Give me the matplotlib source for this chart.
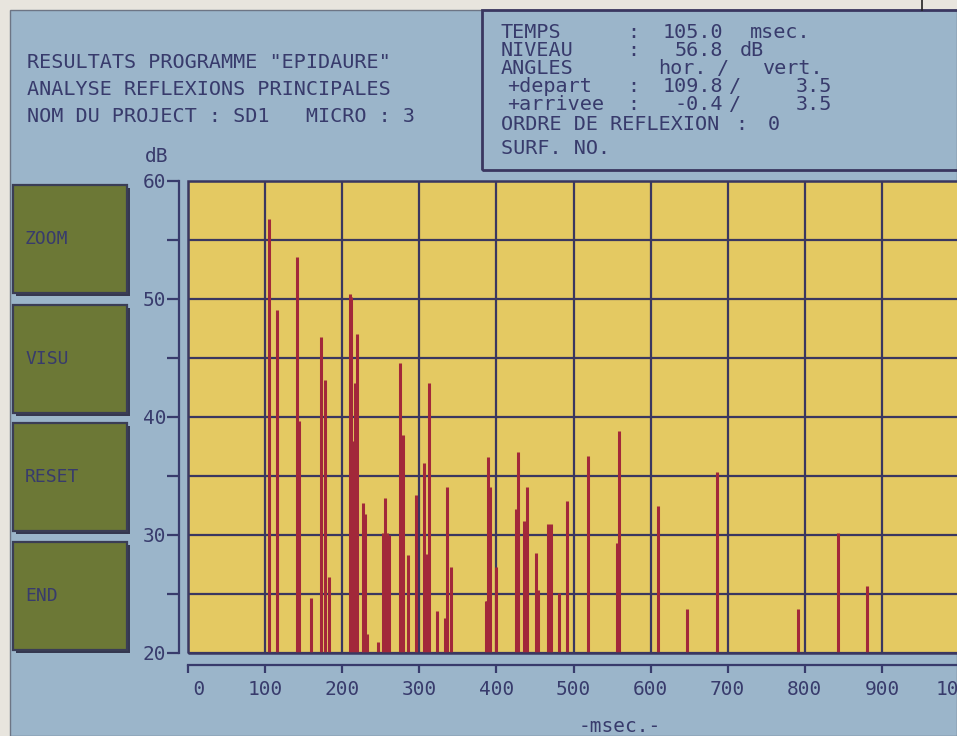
import matplotlib
matplotlib.use('Agg')
import matplotlib.pyplot as plt
from matplotlib.patches import Rectangle
from matplotlib.lines import Line2D

W, H = 957, 736

# reflexions principales : temps d'arrivee (ms) et niveau (dB)
temps_ms = [105, 116, 141, 144, 159, 172.5, 177.7, 183, 210, 212, 214, 216.6, 218.8,
            226.5, 229, 232, 247, 253, 255.5, 258, 261, 275, 279, 285, 295.7, 306.5,
            309, 312.6, 322.5, 333, 336, 341, 386, 388, 389.5, 391.7, 399.5, 425.4,
            427.6, 435.8, 439.3, 451.4, 454.4, 466.5, 470.4, 481.2, 492, 519.2, 556,
            558.5, 610, 647.6, 686.5, 791, 842.7, 880.7]
niveau_db = [56.8, 49.1, 53.6, 39.7, 24.7, 46.8, 43.1, 26.4, 50.4, 50.2, 38.0, 42.9, 47.0,
             32.7, 31.8, 21.6, 20.9, 30.2, 33.1, 30.2, 30.0, 44.6, 38.5, 28.3, 33.4, 36.1,
             28.4, 42.9, 23.6, 23.0, 34.1, 27.3, 24.4, 24.4, 36.6, 34.1, 27.3, 32.2,
             37.0, 31.2, 34.1, 28.5, 25.3, 30.9, 30.9, 25.1, 32.9, 36.7, 29.3,
             38.8, 32.5, 23.7, 35.3, 23.7, 30.2, 25.7]

x_ticks = list(range(0, 1001, 100))
x_labels = ['  0', '100', '200', '300', '400', '500', '600', '700', '800', '900', '1000']
y_major = [20, 30, 40, 50, 60]
y_minor = [25, 35, 45, 55]

en_tete = ['RESULTATS PROGRAMME "EPIDAURE"',
           'ANALYSE REFLEXIONS PRINCIPALES',
           'NOM DU PROJECT : SD1   MICRO : 3']
boutons = ['ZOOM', 'VISU', 'RESET', 'END']

# bloc d'info : (texte, x px, y px)
infos = [
    ('TEMPS', 501, 32), (':', 627, 32), ('105.0', 663, 32), ('msec.', 750, 32),
    ('NIVEAU', 501, 50), (':', 627, 50), ('56.8', 675, 50), ('dB', 740, 50),
    ('ANGLES', 501, 68), ('hor.', 658, 68), ('/', 717, 68), ('vert.', 762, 68),
    ('+depart', 507, 87), (':', 627, 87), ('109.8', 663, 87), ('/', 729, 87), ('3.5', 796, 87),
    ('+arrivee', 507, 105), (':', 627, 105), ('-0.4', 675, 105), ('/', 729, 105), ('3.5', 796, 105),
    ('ORDRE DE REFLEXION', 501, 125), (':', 735, 125), ('0', 768, 125),
    ('SURF. NO.', 501, 148),
]

PAPIER = '#e8e5de'
FOND = '#9bb5ca'
JAUNE = '#e4c962'
OLIVE = '#6c7836'
ENCRE = '#383b6c'
GRILLE = '#3a3760'
ROUGE = '#a2283a'

plt.rcParams['font.family'] = ['DejaVu Sans Mono']


def fx(x):
    return x / W


def fy(y):
    return 1 - y / H


fig = plt.figure(figsize=(W / 100, H / 100), dpi=100, facecolor=PAPIER)

# ecran
fig.patches.append(Rectangle((fx(10), 0), 1 - fx(10), fy(10), transform=fig.transFigure,
                             facecolor=FOND, edgecolor='#6d7585', lw=1.0, zorder=-10))
fig.add_artist(Line2D([fx(922), fx(922)], [fy(0), fy(10)], color='#222222', lw=1.2))

# graphe
ax = fig.add_axes([fx(188), fy(653), 771 / W, 472 / H])
ax.set_facecolor(JAUNE)
ax.vlines(temps_ms, 20, niveau_db, colors=ROUGE, linewidth=2.2, zorder=3)
ax.set_xlim(0, 1000)
ax.set_ylim(20, 60)
ax.set_xticks(x_ticks)
ax.set_xticklabels(x_labels)
ax.set_yticks(y_major)
ax.set_yticks(y_minor, minor=True)
ax.grid(which='both', color=GRILLE, lw=1.6, zorder=1)
ax.set_axisbelow(True)

for s in ['top', 'right']:
    ax.spines[s].set_visible(False)
ax.spines['left'].set_position(('outward', 6.5))
ax.spines['left'].set_bounds(20, 60)
ax.spines['bottom'].set_position(('outward', 8.6))
ax.spines['bottom'].set_bounds(0, 1000)
for s in ['left', 'bottom']:
    ax.spines[s].set_color(ENCRE)
    ax.spines[s].set_linewidth(1.6)
ax.add_patch(Rectangle((0, 0), 1, 1, transform=ax.transAxes, fill=False,
                       edgecolor=GRILLE, lw=1.8, clip_on=False, zorder=4))

ax.tick_params(axis='x', direction='out', length=6, width=1.6, color=ENCRE,
               labelcolor=ENCRE, labelsize=14, pad=5)
ax.tick_params(axis='y', which='both', direction='out', length=8.6, width=1.6,
               color=ENCRE, labelcolor=ENCRE, labelsize=14, pad=0.5)

fig.text(fx(157), fy(157), 'dB', ha='center', va='center', fontsize=14, color=ENCRE)
fig.text(fx(620), fy(727), '-msec.-', ha='center', va='center', fontsize=14, color=ENCRE)

# en-tete
for i, ligne in enumerate(en_tete):
    fig.text(fx(27), fy(62 + i * 27.5), ligne, ha='left', va='center',
             fontsize=14.5, color=ENCRE)

# bloc d'info
fig.patches.append(Rectangle((fx(482), fy(170)), 480 / W, 160 / H, transform=fig.transFigure,
                             fill=False, edgecolor=GRILLE, lw=2.0))
for txt, x, y in infos:
    fig.text(fx(x), fy(y), txt, ha='left', va='center', fontsize=14.5, color=ENCRE)

# boutons
haut_boutons = [185, 305, 423, 542]
for nom, y0 in zip(boutons, haut_boutons):
    h = 108
    fig.patches.append(Rectangle((fx(16), fy(y0 + h + 3)), 114 / W, h / H,
                                 transform=fig.transFigure, facecolor='#353850',
                                 edgecolor='none'))
    fig.patches.append(Rectangle((fx(13), fy(y0 + h)), 114 / W, h / H,
                                 transform=fig.transFigure, facecolor=OLIVE,
                                 edgecolor='#3a3d55', lw=1.6))
    fig.text(fx(25), fy(y0 + h / 2), nom, ha='left', va='center', fontsize=13,
             color=ENCRE)

plt.savefig('out.png', dpi=100, facecolor=PAPIER)
